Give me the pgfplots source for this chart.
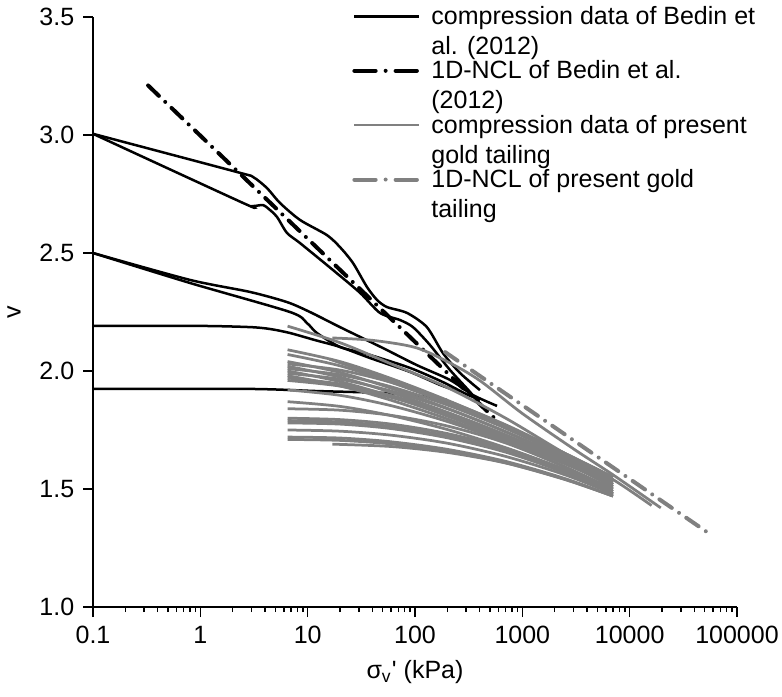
\documentclass[border=0pt]{standalone}
\usepackage{fontspec}
\setmainfont{Liberation Sans}[Ligatures=TeXOff]
\usepackage{pgfplots}
\pgfplotsset{compat=1.18}

\pgfplotsset{
  bed/.style={black, line width=1pt, smooth, tension=0.45},
  gold/.style={gray, line width=1.1pt, smooth, tension=0.5, forget plot},
  ncl/.style={line width=1.6pt, line cap=round, dash pattern=on 6pt off 3.5pt on 0pt off 3.5pt,
    legend image post style={dash pattern=on 8.5pt off 4pt on 0pt off 4pt}},
}

\begin{document}
\begin{tikzpicture}
\begin{axis}[
  scale only axis, width=257.6pt, height=236pt,
  xmode=log, xmin=0.1, xmax=100000, ymin=1, ymax=3.5,
  axis x line*=bottom, axis y line*=left,
  axis line style={line width=0.8pt, -},
  xtick={0.1,1,10,100,1000,10000,100000},
  xticklabels={0.1,1,10,100,1000,10000,100000},
  minor xtick={0.2,0.3,0.4,0.5,0.6,0.7,0.8,0.9,2,3,4,5,6,7,8,9,20,30,40,50,60,70,80,90,
    200,300,400,500,600,700,800,900,2000,3000,4000,5000,6000,7000,8000,9000,
    20000,30000,40000,50000,60000,70000,80000,90000},
  ytick={1,1.5,2,2.5,3,3.5}, yticklabels={1.0,1.5,2.0,2.5,3.0,3.5},
  tick align=outside, major tick length=4pt, minor tick length=2pt,
  tick style={black, line width=0.6pt},
  ticklabel style={font=\fontsize{10}{12}\selectfont},
  xlabel={σ\textsubscript{v}' (kPa)}, ylabel={v},
  label style={font=\fontsize{10}{12}\selectfont},
  xlabel style={at={(axis description cs:0.5,0)}, anchor=center, yshift=-26pt},
  ylabel style={at={(axis description cs:-0.1227,0.5)}, anchor=center},
  legend style={draw=none, fill=none, at={(axis description cs:0.402,1.02)}, anchor=north west,
    cells={align=left, anchor=north west}, nodes={inner ysep=0pt}, row sep=0.8pt,
    column sep=2pt, inner sep=0pt, font=\fontsize{10}{10}\selectfont},
  legend image code/.code={\draw[#1] (0pt,-4.3pt) -- (26pt,-4.3pt);},
  no marks,
]
% Bedin et al. (2012) compression curves
\addplot[bed] coordinates {(0.1,3.005) (2.2,2.843) (3.1,2.822) (4.18,2.775) (5.52,2.712) (8.49,2.640) (15.1,2.576) (20.0,2.525) (26.4,2.458) (35.7,2.356) (44.3,2.301) (54.8,2.271) (84.3,2.246) (129,2.186) (182,2.076) (262,1.992) (403,1.919)};
\addlegendentry{compression data of Bedin et\\[2pt]al. (2012)}
\addplot[bed, forget plot] coordinates {(0.1,3.005) (2.5,2.712) (3.1,2.699) (3.84,2.703) (4.46,2.682) (5.18,2.653) (6.42,2.585) (8.49,2.542) (17.2,2.428) (30.8,2.331) (47.2,2.246) (72.5,2.216) (95.7,2.186) (138,2.110) (212,2.004) (326,1.911) (431,1.843)};
\addplot[bed, forget plot] coordinates {(0.1,2.50) (0.8,2.386) (2.9,2.335) (6.42,2.292) (10.5,2.250) (20.0,2.186) (50.4,2.097) (104,2.025) (212,1.962) (347,1.898) (581,1.852)};
\addplot[bed, forget plot] coordinates {(0.1,2.50) (0.8,2.373) (6.84,2.250) (9.86,2.203) (12.2,2.161) (20,2.102) (35.7,2.072) (89.9,2.013) (182,1.953) (292,1.905) (403,1.877)};
\addplot[bed, forget plot] coordinates {(0.1,2.191) (1.0,2.191) (2.9,2.186) (4.46,2.178) (6.84,2.161) (11.7,2.131) (20,2.102) (38.1,2.055) (89.9,1.996) (171,1.941) (262,1.911)};
\addplot[bed, forget plot] coordinates {(0.1,1.924) (2.9,1.924) (12.2,1.915) (50.4,1.907) (111,1.894) (199,1.877)};
% Bedin et al. (2012) 1D-NCL
\addplot[black, ncl] coordinates {(0.326,3.21) (580,1.79)};
\addlegendentry{1D-NCL of Bedin et al.\\[2pt](2012)}
% present gold tailing compression curves
\addplot[gray, line width=1.1pt, smooth, tension=0.5, legend image post style={line width=0.8pt}] coordinates {(6.5,2.19) (20,2.12) (60,2.03) (200,1.93) (700,1.80) (2500,1.65) (7000,1.54) (16000,1.43)};
\addlegendentry{compression data of present\\[2pt]gold tailing}
\addplot[gold] coordinates {(17,2.14) (40,2.13) (100,2.10) (200,2.04) (400,1.96) (1000,1.82) (3000,1.67) (7000,1.56) (19500,1.42)};
\addplot[gold] coordinates {(6.5,2.09) (20,2.040) (60,1.968) (200,1.876) (700,1.769) (2500,1.651) (7000,1.55)};
\addplot[gold] coordinates {(6.5,2.07) (20,2.022) (60,1.952) (200,1.864) (700,1.761) (2500,1.647) (7000,1.55)};
\addplot[gold] coordinates {(6.5,2.04) (20,1.994) (60,1.927) (200,1.842) (700,1.743) (2500,1.634) (7000,1.54)};
\addplot[gold] coordinates {(6.5,2.03) (20,2.004) (60,1.952) (200,1.873) (700,1.772) (2500,1.650) (7000,1.54)};
\addplot[gold] coordinates {(6.5,2.02) (20,1.974) (60,1.909) (200,1.825) (700,1.729) (2500,1.622) (7000,1.53)};
\addplot[gold] coordinates {(6.5,2.01) (20,1.984) (60,1.933) (200,1.856) (700,1.757) (2500,1.638) (7000,1.53)};
\addplot[gold] coordinates {(6.5,2.00) (20,1.955) (60,1.892) (200,1.809) (700,1.715) (2500,1.610) (7000,1.52)};
\addplot[gold] coordinates {(6.5,1.99) (20,1.965) (60,1.915) (200,1.840) (700,1.742) (2500,1.625) (7000,1.52)};
\addplot[gold] coordinates {(6.5,1.98) (20,1.937) (60,1.876) (200,1.797) (700,1.707) (2500,1.606) (7000,1.52)};
\addplot[gold] coordinates {(6.5,1.97) (20,1.945) (60,1.896) (200,1.823) (700,1.728) (2500,1.613) (7000,1.51)};
\addplot[gold] coordinates {(6.5,1.96) (20,1.936) (60,1.888) (200,1.816) (700,1.723) (2500,1.611) (7000,1.51)};
\addplot[gold] coordinates {(6.5,1.92) (20,1.897) (60,1.853) (200,1.786) (700,1.699) (2500,1.594) (7000,1.50)};
\addplot[gold] coordinates {(6.5,1.87) (20,1.850) (60,1.811) (200,1.752) (700,1.675) (2500,1.583) (7000,1.50)};
\addplot[gold] coordinates {(6.5,1.84) (20,1.834) (60,1.812) (200,1.767) (700,1.695) (2500,1.593) (7000,1.49)};
\addplot[gold] coordinates {(6.5,1.80) (20,1.794) (60,1.775) (200,1.735) (700,1.672) (2500,1.581) (7000,1.49)};
\addplot[gold] coordinates {(6.5,1.79) (20,1.784) (60,1.765) (200,1.725) (700,1.662) (2500,1.571) (7000,1.48)};
\addplot[gold] coordinates {(6.5,1.78) (20,1.775) (60,1.756) (200,1.717) (700,1.656) (2500,1.569) (7000,1.48)};
\addplot[gold] coordinates {(6.5,1.75) (20,1.745) (60,1.728) (200,1.694) (700,1.638) (2500,1.560) (7000,1.48)};
\addplot[gold] coordinates {(6.5,1.72) (20,1.716) (60,1.700) (200,1.668) (700,1.617) (2500,1.544) (7000,1.47)};
\addplot[gold] coordinates {(6.5,1.71) (20,1.706) (60,1.691) (200,1.660) (700,1.611) (2500,1.541) (7000,1.47)};
\addplot[gold] coordinates {(16,2.05) (60,1.96) (200,1.87) (700,1.765) (2500,1.65) (7000,1.55)};
\addplot[gold] coordinates {(17,1.69) (60,1.680) (200,1.655) (700,1.610) (2500,1.540) (7000,1.47)};
% present gold tailing 1D-NCL
\addplot[gray, ncl] coordinates {(191,2.08) (51600,1.32)};
\addlegendentry{1D-NCL of present gold\\[2pt]tailing}
\end{axis}
\pgfresetboundingbox
\path[use as bounding box] (-37.2pt,-35.6pt) rectangle (275.6pt,242.8pt);
\end{tikzpicture}
\end{document}
